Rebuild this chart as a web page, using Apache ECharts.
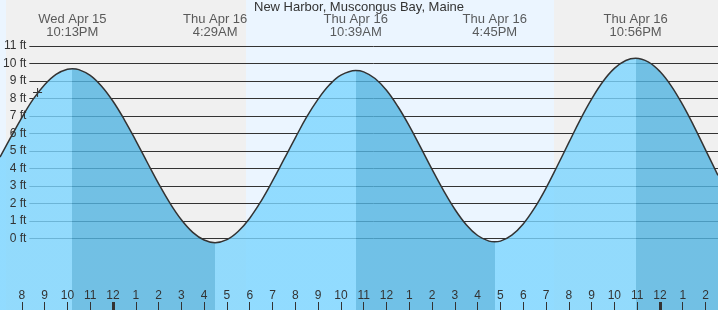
<!DOCTYPE html>
<html>
<head>
<meta charset="utf-8">
<script src="https://cdn.jsdelivr.net/npm/echarts@6/dist/echarts.min.js"></script>
<style>
html,body{margin:0;padding:0;background:#ebf5ff;}
#c{width:718px;height:310px;}
</style>
</head>
<body>
<div id="c"></div>
<script>
// ---------- data (hours are counted from midnight at the start of Thu Apr 16) ----------
const chartTitle = 'New Harbor, Muscongus Bay, Maine';
const hours = [-4.958,-4.5,-4,-3.5,-3,-2.5,-2,-1.783,-1.5,-1,-0.5,0,0.5,1,1.5,2,2.5,3,3.5,4,4.483,
  5,5.5,6,6.5,7,7.5,8,8.5,9,9.5,10,10.65,11,11.5,12,12.5,13,13.5,14,14.5,15,15.5,16,16.5,16.75,
  17,17.5,18,18.5,19,19.5,20,20.5,21,21.5,22,22.5,22.933,23.5,24,24.5,25,25.5,26,26.547];
const heights = [4.65,5.74,6.91,7.96,8.79,9.38,9.67,9.70,9.65,9.32,8.70,7.84,6.78,5.59,4.35,3.13,2.01,1.06,0.34,-0.10,-0.25,
  -0.08,0.40,1.15,2.13,3.28,4.51,5.75,6.94,7.96,8.78,9.33,9.60,9.52,9.14,8.47,7.54,6.43,5.20,3.94,2.74,1.66,0.78,0.16,-0.16,-0.20,
  -0.16,0.18,0.82,1.74,2.87,4.15,5.47,6.78,7.96,8.97,9.72,10.17,10.30,10.08,9.54,8.71,7.63,6.39,5.06,3.60];
const extremeHours = [-1.783, 4.483, 10.65, 16.75, 22.933];
const extremeTypes = ['H', 'L', 'H', 'L', 'H'];
const extremeLabels = ['Wed Apr 15\n10:13PM', 'Thu Apr 16\n4:29AM', 'Thu Apr 16\n10:39AM', 'Thu Apr 16\n4:45PM', 'Thu Apr 16\n10:56PM'];
const nightBands = [[-4.695, 5.836], [19.35, 26.547]];
const tickHours = [-4,-3,-2,-1,0,1,2,3,4,5,6,7,8,9,10,11,12,13,14,15,16,17,18,19,20,21,22,23,24,25,26];
const midnightHours = [0, 24];
const nowMarker = [-3.31, 8.34];

// ---------- layout ----------
const xMin = -4.958, xMax = 26.547;
const yMin = -4.102, yMax = 13.633;
const lightWater = 'rgb(123,213,255)';
const darkWater = 'rgb(82,180,225)';
const ink = '#333';
const fontFamily = 'Liberation Sans, Arial, sans-serif';

const pieces = [];
let prev = null;
extremeHours.forEach((h, i) => {
  const falling = extremeTypes[i] === 'L';
  const p = { lt: h, color: falling ? darkWater : lightWater };
  if (prev !== null) p.gte = prev;
  pieces.push(p);
  prev = h;
});
pieces.push({ gte: prev, color: extremeTypes[extremeTypes.length - 1] === 'H' ? darkWater : lightWater });

const hourLabel = v => {
  const h = ((Math.round(v) % 12) + 12) % 12;
  return String(h === 0 ? 12 : h);
};

const chart = echarts.init(document.getElementById('c'), null, { renderer: 'canvas' });
chart.setOption({
  animation: false,
  backgroundColor: '#ebf5ff',
  textStyle: { fontFamily: fontFamily },
  title: {
    text: chartTitle, left: 'center', top: 1, padding: 0,
    textStyle: { fontSize: 13, fontWeight: 'normal', color: ink, fontFamily: fontFamily }
  },
  grid: [
    { left: 0, right: 0, top: 0, bottom: 0 },
    { left: 29, right: 0, top: 46, height: 192.3 }
  ],
  visualMap: {
    type: 'piecewise', show: false, dimension: 0, seriesIndex: 1, pieces: pieces
  },
  xAxis: [
    {
      gridIndex: 0, type: 'value', min: xMin, max: xMax, position: 'bottom', z: 3,
      axisLine: { show: false, onZero: false }, splitLine: { show: false },
      axisTick: { show: true, inside: true, length: 8, customValues: tickHours, lineStyle: { color: ink, width: 1 } },
      axisLabel: { show: true, inside: true, margin: 8, customValues: tickHours, formatter: hourLabel, fontSize: 12, color: ink, fontFamily: fontFamily }
    },
    {
      gridIndex: 0, type: 'value', min: xMin, max: xMax, position: 'bottom', z: 3,
      axisLine: { show: false, onZero: false }, splitLine: { show: false }, axisLabel: { show: false },
      axisTick: { show: true, inside: true, length: 8, customValues: midnightHours, lineStyle: { color: ink, width: 3 } }
    },
    { gridIndex: 1, type: 'value', min: 0, max: 1, show: false }
  ],
  yAxis: [
    { gridIndex: 0, type: 'value', min: yMin, max: yMax, show: false },
    {
      gridIndex: 1, type: 'value', min: 0, max: 11, interval: 1, position: 'left',
      axisLine: { show: false }, axisTick: { show: false }, axisLabel: { show: false },
      splitLine: { show: true, lineStyle: { color: ink, width: 1 } }
    },
    {
      gridIndex: 1, type: 'value', min: 0, max: 11, interval: 1, position: 'left', offset: 0, z: 3,
      axisLine: { show: false }, axisTick: { show: false }, splitLine: { show: false },
      axisLabel: { show: true, formatter: '{value} ft', margin: 3, fontSize: 12, color: ink, fontFamily: fontFamily }
    }
  ],
  series: [
    {
      type: 'custom', xAxisIndex: 0, yAxisIndex: 0, z: -1, silent: true,
      data: nightBands,
      renderItem: (params, api) => {
        const p0 = api.coord([api.value(0), yMax]);
        const p1 = api.coord([api.value(1), yMin]);
        return {
          type: 'rect',
          shape: { x: p0[0], y: p0[1], width: p1[0] - p0[0], height: p1[1] - p0[1] },
          style: { fill: '#f0f0f0' }
        };
      }
    },
    {
      type: 'line', xAxisIndex: 0, yAxisIndex: 0, z: 2,
      data: hours.map((h, i) => [h, heights[i]]),
      smooth: 0.4, symbol: 'none', showSymbol: false,
      lineStyle: { color: ink, width: 1.5 },
      areaStyle: { opacity: 0.8, origin: 'start' }
    },
    {
      type: 'scatter', xAxisIndex: 0, yAxisIndex: 0, z: 4, silent: true,
      data: [nowMarker],
      symbol: 'path://M4,0h1v9h-1zM0,4h9v1h-9z', symbolSize: 9,
      itemStyle: { color: ink, opacity: 1 }
    },
    {
      type: 'scatter', xAxisIndex: 0, yAxisIndex: 0, z: 5, silent: true,
      data: extremeHours.map((h, i) => ({ value: [h, 12.14], name: extremeLabels[i] })),
      symbolSize: 1, itemStyle: { color: 'transparent' },
      label: { show: true, position: 'inside', formatter: '{b}', fontSize: 13, lineHeight: 13, color: ink, align: 'center', fontFamily: fontFamily }
    }
  ]
});
</script>
</body>
</html>
